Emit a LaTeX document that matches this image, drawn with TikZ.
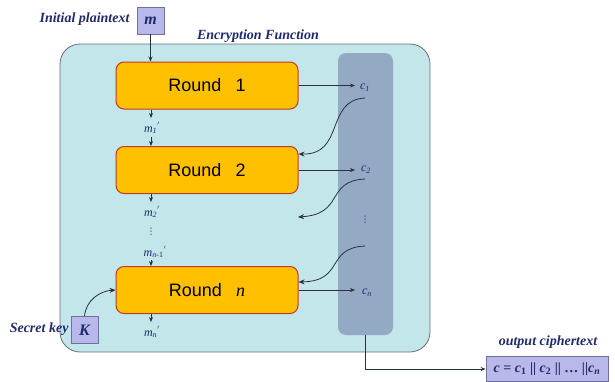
\documentclass[tikz,border=0pt]{standalone}
\usepackage{amsmath}
\usepackage{fontspec}
\setmainfont{Liberation Serif}
\setsansfont{Liberation Sans}
\newfontfamily\dejavu{DejaVu Sans}
\usetikzlibrary{arrows.meta}
\definecolor{navy}{HTML}{1F2A6B}
\definecolor{contfill}{HTML}{C2E6EA}
\definecolor{colfill}{HTML}{94AAC4}
\definecolor{roundfill}{HTML}{FFC000}
\definecolor{roundline}{HTML}{C0392B}
\definecolor{boxfill}{HTML}{B8B8EA}
\definecolor{boxline}{HTML}{7070A0}
\definecolor{lineclr}{HTML}{2B3040}
\newcommand{\prm}{\raisebox{0.5ex}{\upshape\fontsize{9}{9}\selectfont$'$}}
\tikzset{
  roundbox/.style={draw=roundline, line width=1pt, fill=roundfill, rounded corners=8pt, minimum width=182pt, minimum height=47pt, font=\sffamily\fontsize{18}{20}\selectfont},
  inbox/.style={draw=boxline, line width=0.8pt, fill=boxfill, minimum width=27pt, minimum height=27pt, text=navy, font=\bfseries\itshape\fontsize{16}{18}\selectfont},
  lbl/.style={text=navy, font=\bfseries\itshape\fontsize{14}{16}\selectfont},
  mlbl/.style={text=navy, font=\itshape\fontsize{12}{13}\selectfont, inner sep=1pt},
  dots/.style={text=navy, font=\dejavu\fontsize{9}{9}\selectfont, inner sep=0pt},
  arr/.style={-{Stealth[length=5pt,width=4pt]}, draw=lineclr, line width=0.7pt},
  crv/.style={-{Stealth[length=6pt,width=5pt]}, draw=lineclr, line width=0.8pt}
}
\begin{document}
\begin{tikzpicture}[x=1pt,y=-1pt]
\useasboundingbox (0,0) rectangle (615,381);
% container
\node[draw=lineclr!70, line width=0.8pt, fill=contfill, rounded corners=20pt, minimum width=370pt, minimum height=308pt, inner sep=0pt] (cont) at (245,198) {};
\node[fill=colfill, rounded corners=8pt, minimum width=55pt, minimum height=282pt, inner sep=0pt] (col) at (365.5,194) {};
\node[lbl] (ef) at (258,36) {Encryption Function};
% rounds
\node[roundbox] (r1) at (207,85.5) {Round\hspace{0.8em}1};
\node[roundbox] (r2) at (207,170) {Round\hspace{0.8em}2};
\node[roundbox] (rn) at (207,290) {Round\hspace{0.8em}{\rmfamily\itshape n}};
% input m
\node[inbox] (m) at (150.5,20.5) {m};
\node[lbl, anchor=east] (ip) at (133,19) {Initial plaintext};
\draw[arr] (m.south) -- (r1.north -| m.south);
% m labels
\node[mlbl] (m1) at (152,128) {m\textsubscript{1}\prm};
\node[mlbl] (m2) at (152,212) {m\textsubscript{2}\prm};
\node[dots] (vd) at (151,232) {⋮};
\node[mlbl] (mn1) at (155,252) {m\textsubscript{\itshape n\upshape -1}\prm};
\node[mlbl] (mn) at (152,332) {m\textsubscript{n}\prm};
\draw[arr] (r1.south -| 151,0) -- (151,118);
\draw[arr] (151,137) -- (r2.north -| 151,0);
\draw[arr] (r2.south -| 151,0) -- (151,202);
\draw[arr] (151,260) -- (rn.north -| 151,0);
\draw[arr] (rn.south -| 151,0) -- (151,322);
% key
\node[inbox] (K) at (84.5,330) {K};
\node[lbl, anchor=east] (sk) at (72,329) {Secret key};
\draw[crv] (K.north) .. controls (86,300) and (100,291) .. (rn.west);
% ciphertext blocks
\node[mlbl] (c1) at (365,88) {c\textsubscript{1}};
\node[mlbl] (c2) at (366,170) {c\textsubscript{2}};
\node[dots] (cv) at (365,220) {⋮};
\node[mlbl] (cn) at (367,293) {c\textsubscript{n}};
\draw[arr] (r1.east) -- (355,85.5);
\draw[arr] (r2.east) -- (355,170);
\draw[arr] (rn.east) -- (355,290);
\coordinate (s1) at (365,98);
\coordinate (s2) at (365,179);
\coordinate (s3) at (365,246);
\coordinate (e2) at (298,217);
\draw[crv] (s1) .. controls (325,100) and (345,155) .. (r2.east |- 0,154);
\draw[crv] (s2) .. controls (325,181) and (345,214) .. (e2);
\draw[crv] (s3) .. controls (325,248) and (345,281) .. (rn.east |- 0,282);
% output
\node[draw=boxline, line width=0.8pt, fill=boxfill, minimum width=122pt, minimum height=25pt, text=navy, font=\bfseries\fontsize{14}{16}\selectfont, inner sep=2pt] (out) at (547,369) {\textit{c} = \textit{c}\textsubscript{1} || \textit{c}\textsubscript{2} || \dots\ ||\textit{c}\textsubscript{\itshape n}};
\node[lbl] (oc) at (548,342) {output ciphertext};
\draw[arr] (col.south) -- (col.south |- out.west) -- (out.west);
\end{tikzpicture}
\end{document}
